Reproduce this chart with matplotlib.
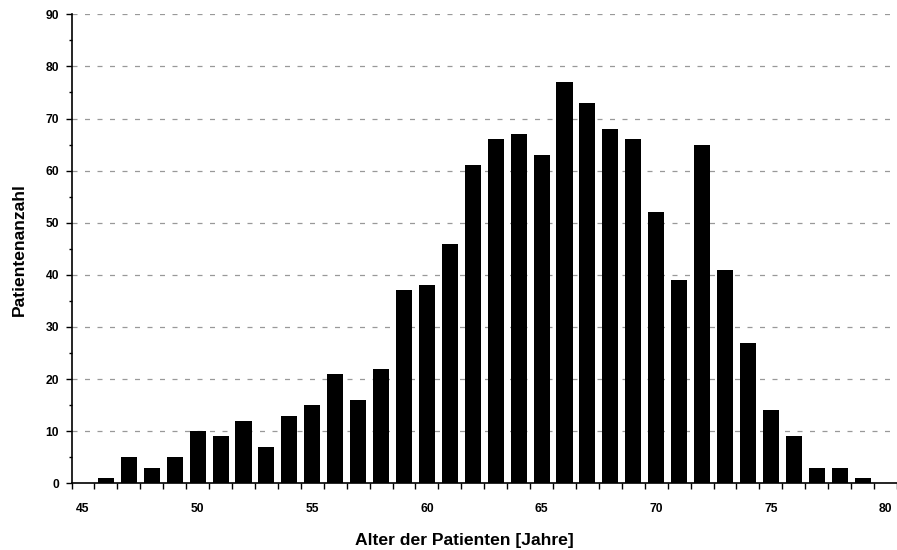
import numpy as np
import matplotlib.pyplot as plt

ages = list(range(45, 81))
counts = [0, 1, 5, 3, 5, 10, 9, 12, 7, 13, 15, 21, 16, 22, 37, 38, 46, 61, 66, 67,
          63, 77, 73, 68, 66, 52, 39, 65, 41, 27, 14, 9, 3, 3, 1, 0]
tick_labels = ['45', '50', '55', '60', '65', '70', '75', '80']

plt.rcParams['font.family'] = ['Liberation Sans', 'DejaVu Sans']
plt.rcParams['font.weight'] = 'bold'

W, H = 897, 550
fig = plt.figure(figsize=(W / 100, H / 100), dpi=100)
# axes box in pixels (right edge runs past the picture, as in the original)
left, right, top, bottom = 71.5, 897, 14.3, 483.3
ax = fig.add_axes([left / W, 1 - bottom / H, (right - left) / W, (bottom - top) / H])

slot = 23.04
x = np.arange(len(ages))
ax.bar(x, counts, width=0.7, color='black', zorder=3)

ax.set_xlim(-0.5, -0.5 + (right - left) / slot)
ax.set_ylim(0, 90)

ax.set_yticks(range(0, 91, 10))
ax.set_yticks(range(5, 90, 10), minor=True)
ax.yaxis.grid(True, which='major', linestyle=(0, (4, 6)), color='#999999', linewidth=0.9, zorder=0)

# x: tick marks on slot borders, labels centred in every fifth slot
ax.set_xticks(np.arange(-0.5, 36, 1.0))
ax.set_xticklabels([])
ax.set_xticks(np.arange(0, 36, 5), minor=True)
ax.set_xticklabels(tick_labels, minor=True)
ax.tick_params(axis='x', which='minor', length=0, pad=14, labelsize=8.7)
ax.tick_params(axis='x', which='major', length=4, width=1, direction='out')
ax.tick_params(axis='y', which='major', length=4, width=1, labelsize=8.7, pad=5)
ax.tick_params(axis='y', which='minor', length=2, width=1)

for s in ['top', 'right']:
    ax.spines[s].set_visible(False)
for s in ['left', 'bottom']:
    ax.spines[s].set_linewidth(1.2)
    ax.spines[s].set_zorder(4)

fig.text(19 / W, 1 - 250 / H, 'Patientenanzahl', rotation=90, ha='center', va='center',
         fontsize=12.6, fontweight='bold')
fig.text(464 / W, 1 - 541 / H, 'Alter der Patienten [Jahre]', ha='center', va='center',
         fontsize=12.6, fontweight='bold')

fig.savefig('out.png', dpi=100)
